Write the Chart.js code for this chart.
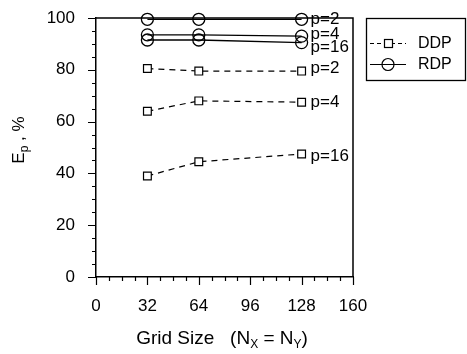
<!DOCTYPE html>
<html>
<head>
<meta charset="utf-8">
<script src="https://cdn.jsdelivr.net/npm/chart.js@4"></script>
<style>
  html, body { margin: 0; padding: 0; background: #fff; }
  #chart { display: block; }
</style>
</head>
<body>
<canvas id="chart" width="467" height="354"></canvas>
<script>
// grid sizes (N_X = N_Y)
const gridSizes = [32, 64, 128];

// DDP efficiency, %
const ddpP2 = [80.5, 79.5, 79.5];
const ddpP4 = [64, 68, 67.5];
const ddpP16 = [39, 44.5, 47.5];

// RDP efficiency, %
const rdpP2 = [99.5, 99.5, 99.5];
const rdpP4 = [93.5, 93.5, 93];
const rdpP16 = [91.5, 91.5, 90.5];

const xTicks = [0, 32, 64, 96, 128, 160];
const yTicks = [0, 20, 40, 60, 80, 100];
const curveLabels = ['p=2', 'p=4', 'p=16'];

const FONT = '"Liberation Sans", Arial, sans-serif';

function pts(vals) {
    return gridSizes.map(function(x, i){ return {x: x, y: vals[i]}; });
}

function ddpSet(vals, name) {
    return {
        label: name, data: pts(vals),
        borderColor: '#000', borderWidth: 1.2, borderDash: [6, 5],
        pointStyle: 'rect', pointRadius: 5.5, pointBorderWidth: 1.2,
        pointBackgroundColor: '#fff', pointBorderColor: '#000',
        clip: false
    };
}

function rdpSet(vals, name) {
    return {
        label: name, data: pts(vals),
        borderColor: '#000', borderWidth: 1.3,
        pointStyle: 'circle', pointRadius: 6, pointBorderWidth: 1.3,
        pointBackgroundColor: 'rgba(255,255,255,0)', pointBorderColor: '#000',
        clip: false
    };
}

// draws frame, minor ticks, curve labels, titles and the boxed legend
const decorations = {
    id: 'decorations',
    afterDraw: function(chart) {
        var ctx = chart.ctx;
        var a = chart.chartArea;
        var xs = chart.scales.x, ys = chart.scales.y;
        ctx.save();
        ctx.strokeStyle = '#000';
        ctx.fillStyle = '#000';

        // frame
        ctx.lineWidth = 1.5;
        ctx.beginPath();
        ctx.moveTo(a.left, a.top); ctx.lineTo(a.right, a.top);
        ctx.lineTo(a.right, a.bottom);
        ctx.stroke();

        // ticks
        ctx.lineWidth = 1.2;
        ctx.beginPath();
        for (var v = 0; v <= 160; v += 8) {
            var px = Math.round(xs.getPixelForValue(v)) + 0.5;
            var len = (v % 32 === 0) ? 8 : 4;
            ctx.moveTo(px, a.bottom); ctx.lineTo(px, a.bottom + len);
        }
        for (var w = 0; w <= 100; w += 5) {
            var py = Math.round(ys.getPixelForValue(w)) + 0.5;
            var l2 = (w % 20 === 0) ? 8 : 4;
            ctx.moveTo(a.left, py); ctx.lineTo(a.left - l2, py);
        }
        ctx.stroke();

        // curve labels beside the last point
        ctx.font = '17px ' + FONT;
        ctx.textBaseline = 'middle';
        ctx.textAlign = 'left';
        var shifts = [0, -2, 5, -3, 0, 2];
        chart.data.datasets.forEach(function(ds, i){
            var last = ds.data[ds.data.length - 1];
            var lx = xs.getPixelForValue(last.x) + 9;
            var ly = ys.getPixelForValue(last.y) + shifts[i];
            ctx.fillText(curveLabels[i % 3], lx, ly);
        });

        // x title with subscripts
        ctx.textBaseline = 'alphabetic';
        var big = '19px ' + FONT, sub = '12px ' + FONT;
        var parts = [['Grid Size   (N', 0], ['X', 1], [' = N', 0], ['Y', 1], [')', 0]];
        var total = 0;
        parts.forEach(function(p){ ctx.font = p[1] ? sub : big; total += ctx.measureText(p[0]).width; });
        var tx = 222 - total / 2;
        var by = 344;
        parts.forEach(function(p){
            ctx.font = p[1] ? sub : big;
            ctx.fillText(p[0], tx, by + (p[1] ? 4 : 0));
            tx += ctx.measureText(p[0]).width;
        });

        // y title
        ctx.save();
        ctx.translate(24, 140);
        ctx.rotate(-Math.PI / 2);
        var ybig = '17px ' + FONT;
        var yparts = [['E', 0], ['p', 1], [' , %', 0]];
        var ytot = 0;
        yparts.forEach(function(p){ ctx.font = p[1] ? sub : ybig; ytot += ctx.measureText(p[0]).width; });
        var yx = -ytot / 2;
        yparts.forEach(function(p){
            ctx.font = p[1] ? sub : ybig;
            ctx.fillText(p[0], yx, p[1] ? 4 : 0);
            yx += ctx.measureText(p[0]).width;
        });
        ctx.restore();

        // legend box
        ctx.lineWidth = 1.3;
        ctx.setLineDash([]);
        ctx.strokeRect(366.5, 18.5, 99, 62);
        ctx.font = '16px ' + FONT;
        ctx.textBaseline = 'middle';
        // DDP
        ctx.lineWidth = 1.2;
        ctx.setLineDash([4, 3]);
        ctx.beginPath(); ctx.moveTo(370, 43.5); ctx.lineTo(406, 43.5); ctx.stroke();
        ctx.setLineDash([]);
        ctx.fillStyle = '#fff';
        ctx.fillRect(384, 39.5, 8, 8);
        ctx.strokeRect(384.5, 39.5, 8, 8);
        ctx.fillStyle = '#000';
        ctx.fillText('DDP', 418, 44);
        // RDP
        ctx.beginPath(); ctx.moveTo(370, 64.5); ctx.lineTo(406, 64.5); ctx.stroke();
        ctx.beginPath(); ctx.arc(388, 64.5, 6, 0, Math.PI * 2); ctx.stroke();
        ctx.fillText('RDP', 418, 65);

        ctx.restore();
    }
};

new Chart(document.getElementById('chart'), {
    type: 'line',
    data: {
        datasets: [
            rdpSet(rdpP2, 'RDP p=2'),
            rdpSet(rdpP4, 'RDP p=4'),
            rdpSet(rdpP16, 'RDP p=16'),
            ddpSet(ddpP2, 'DDP p=2'),
            ddpSet(ddpP4, 'DDP p=4'),
            ddpSet(ddpP16, 'DDP p=16')
        ]
    },
    options: {
        responsive: false,
        animation: false,
        layout: { padding: { top: 18, right: 114, left: 0, bottom: 0 } },
        plugins: {
            legend: { display: false },
            tooltip: { enabled: false }
        },
        scales: {
            x: {
                type: 'linear', min: 0, max: 160,
                afterBuildTicks: function(s){ s.ticks = xTicks.map(function(v){ return {value: v}; }); },
                afterFit: function(s){ s.height = 77; s.paddingLeft = 0; s.paddingRight = 0; },
                grid: { display: false, drawTicks: false },
                border: { display: true, color: '#000', width: 1.5 },
                ticks: { color: '#000', padding: 19, maxRotation: 0, font: { family: FONT, size: 17 } }
            },
            y: {
                type: 'linear', min: 0, max: 100,
                afterBuildTicks: function(s){ s.ticks = yTicks.map(function(v){ return {value: v}; }); },
                afterFit: function(s){ s.width = 96; s.paddingTop = 0; s.paddingBottom = 0; },
                grid: { display: false, drawTicks: false },
                border: { display: true, color: '#000', width: 1.5 },
                ticks: { color: '#000', padding: 21, font: { family: FONT, size: 17 } }
            }
        }
    },
    plugins: [decorations]
});
</script>
</body>
</html>
